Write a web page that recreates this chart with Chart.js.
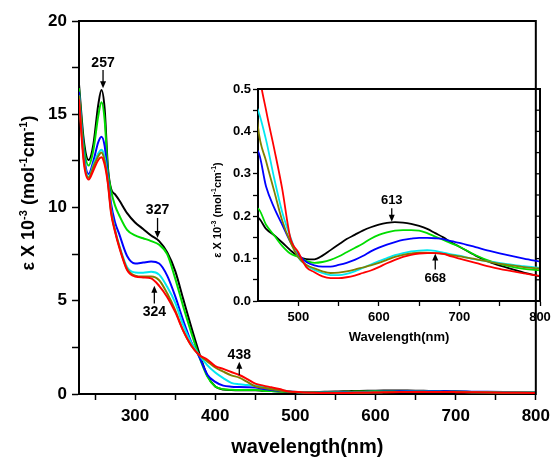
<!DOCTYPE html>
<html>
<head>
<meta charset="utf-8">
<script src="https://cdn.jsdelivr.net/npm/chart.js@4.4.1/dist/chart.umd.min.js"></script>
<style>
  body { margin: 0; background: #fff; }
  #wrap { position: relative; width: 556px; height: 457px; }
  #main { position: absolute; left: 0; top: 0; }
  #inset { position: absolute; left: 200px; top: 75px; }
</style>
</head>
<body>
<div id="wrap">
  <canvas id="main" width="556" height="457"></canvas>
  <canvas id="inset" width="356" height="280"></canvas>
</div>
<script>
// wavelength (nm)
const wavelengths = [230, 236, 242, 248, 254, 258, 262, 266, 270, 275,
  280, 290, 300, 310, 320, 330, 340, 350, 360, 370,
  380, 390, 400, 410, 420, 430, 440, 450, 460, 470,
  480, 490, 500, 510, 520, 530, 540, 550, 560, 570,
  580, 590, 600, 610, 620, 630, 640, 650, 660, 670,
  680, 690, 700, 720, 740, 760, 780, 800];

// epsilon x 10^-3 for each spectrum
const blackSeries = [16.6, 13.6, 12.55, 13.4, 15.5, 16.3, 15.3, 12.2, 11.0, 10.7,
  10.4, 9.7, 9.2, 8.85, 8.5, 8.2, 7.6, 6.6, 5.1, 3.6,
  2.2, 1.0, 0.4, 0.24, 0.21, 0.2, 0.2, 0.197, 0.17, 0.155,
  0.138, 0.12, 0.105, 0.099, 0.098, 0.107, 0.12, 0.133, 0.146, 0.156,
  0.166, 0.174, 0.18, 0.184, 0.186, 0.185, 0.182, 0.177, 0.17, 0.16,
  0.15, 0.138, 0.128, 0.107, 0.09, 0.078, 0.067, 0.058];
const greenSeries = [16.4, 13.3, 12.25, 13.1, 14.9, 15.65, 14.7, 12.0, 10.9, 10.1,
  9.6, 8.8, 8.5, 8.35, 8.2, 8.0, 7.5, 6.2, 4.7, 3.3,
  2.0, 0.95, 0.4, 0.26, 0.23, 0.22, 0.22, 0.218, 0.18, 0.155,
  0.13, 0.112, 0.104, 0.095, 0.09, 0.092, 0.097, 0.105, 0.115, 0.125,
  0.135, 0.147, 0.156, 0.162, 0.166, 0.167, 0.167, 0.166, 0.16, 0.152,
  0.144, 0.136, 0.128, 0.108, 0.093, 0.083, 0.076, 0.072];
const blueSeries = [16.2, 12.9, 11.8, 12.5, 13.5, 13.8, 13.3, 11.7, 10.2, 9.2,
  8.6, 7.4, 7.0, 7.05, 7.1, 7.0, 6.35, 5.25, 3.95, 2.8,
  2.0, 1.05, 0.65, 0.45, 0.39, 0.37, 0.36, 0.353, 0.27, 0.22,
  0.18, 0.14, 0.11, 0.092, 0.084, 0.081, 0.081, 0.085, 0.09, 0.097,
  0.106, 0.117, 0.126, 0.133, 0.139, 0.144, 0.147, 0.149, 0.149, 0.148,
  0.146, 0.141, 0.137, 0.127, 0.117, 0.108, 0.1, 0.093];
const cyanSeries = [16.0, 12.7, 11.65, 12.3, 12.9, 13.1, 12.7, 11.5, 9.9, 8.8,
  8.0, 6.8, 6.52, 6.5, 6.55, 6.4, 5.75, 4.9, 3.7, 2.75,
  2.09, 1.55, 1.15, 0.85, 0.6, 0.52, 0.48, 0.45, 0.38, 0.29,
  0.21, 0.152, 0.103, 0.085, 0.073, 0.066, 0.061, 0.061, 0.064, 0.07,
  0.078, 0.086, 0.094, 0.101, 0.108, 0.113, 0.117, 0.119, 0.12, 0.118,
  0.114, 0.11, 0.107, 0.098, 0.092, 0.087, 0.082, 0.078];
const oliveSeries = [16.0, 12.6, 11.6, 12.2, 12.75, 12.95, 12.5, 11.4, 9.8, 8.75,
  7.95, 6.7, 6.35, 6.3, 6.3, 6.1, 5.4, 4.5, 3.4, 2.6,
  2.09, 1.75, 1.42, 1.2, 1.0, 0.88, 0.65, 0.41, 0.33, 0.26,
  0.19, 0.14, 0.103, 0.085, 0.077, 0.07, 0.066, 0.067, 0.07, 0.074,
  0.079, 0.084, 0.09, 0.097, 0.104, 0.109, 0.112, 0.114, 0.114, 0.113,
  0.111, 0.108, 0.105, 0.099, 0.091, 0.085, 0.08, 0.076];
const redSeries = [15.8, 12.4, 11.5, 12.0, 12.55, 12.7, 12.3, 11.3, 9.7, 8.7,
  7.9, 6.65, 6.3, 6.25, 6.2, 5.8, 5.2, 4.4, 3.4, 2.6,
  2.09, 1.85, 1.5, 1.35, 1.18, 1.02, 0.8, 0.56, 0.45, 0.36,
  0.265, 0.15, 0.115, 0.08, 0.068, 0.058, 0.054, 0.054, 0.056, 0.06,
  0.066, 0.072, 0.08, 0.089, 0.097, 0.104, 0.109, 0.112, 0.113, 0.113,
  0.111, 0.105, 0.1, 0.09, 0.08, 0.072, 0.065, 0.059];

// tick values
const mainXTicks = [250, 300, 350, 400, 450, 500, 550, 600, 650, 700, 750, 800];
const mainYTicks = [0, 2.5, 5, 7.5, 10, 12.5, 15, 17.5, 20];
const insetXTicks = [500, 550, 600, 650, 700, 750, 800];
const insetYTicks = [0, 0.05, 0.1, 0.15, 0.2, 0.25, 0.3, 0.35, 0.4, 0.45, 0.5];

// peak labels: text, wavelength, text level, arrow tail, arrow head
const mainNoteText = ['257', '327', '324', '438'];
const mainNoteX = [260, 328, 324, 430];
const mainNoteTextY = [17.75, 9.87, 4.4, 2.09];
const mainNoteFrom = [17.37, 9.44, 4.85, 1.02];
const mainNoteTo = [16.4, 8.36, 5.8, 1.73];

const insetNoteText = ['613', '668'];
const insetNoteX = [616, 670];
const insetNoteTextY = [0.238, 0.054];
const insetNoteFrom = [0.219, 0.074];
const insetNoteTo = [0.187, 0.112];

const FONT = "'Liberation Sans', Arial, Helvetica, sans-serif";

const seriesList = [
  {data: blackSeries, color: '#000000', order: 5},
  {data: greenSeries, color: '#00dd00', order: 4},
  {data: blueSeries, color: '#0000ff', order: 3},
  {data: cyanSeries, color: '#00e8f0', order: 2},
  {data: oliveSeries, color: '#808000', order: 1},
  {data: redSeries, color: '#ff0000', order: 0}
];

function makeDatasets(width) {
  return seriesList.map(s => ({
    data: wavelengths.map((w, i) => ({x: w, y: s.data[i]})),
    borderColor: s.color,
    backgroundColor: s.color,
    borderWidth: width,
    pointRadius: 0,
    fill: false,
    order: s.order,
    cubicInterpolationMode: 'monotone'
  }));
}

// rotated title with superscripts
function drawRichTitle(ctx, cx, cy, size) {
  const parts = [['\u03b5 X 10', 0], ['-3', 1], [' (mol', 0], ['-1', 1], ['cm', 0], ['-1', 1], [')', 0]];
  const supSize = Math.round(size * 0.62);
  let total = 0;
  parts.forEach(p => {
    ctx.font = 'bold ' + (p[1] ? supSize : size) + 'px ' + FONT;
    total += ctx.measureText(p[0]).width;
  });
  ctx.save();
  ctx.translate(cx, cy);
  ctx.rotate(-Math.PI / 2);
  ctx.fillStyle = '#000';
  ctx.textBaseline = 'alphabetic';
  let x = -total / 2;
  parts.forEach(p => {
    ctx.font = 'bold ' + (p[1] ? supSize : size) + 'px ' + FONT;
    ctx.fillText(p[0], x, p[1] ? size * 0.35 - size * 0.42 : size * 0.35);
    x += ctx.measureText(p[0]).width;
  });
  ctx.restore();
}

function drawArrow(ctx, x, y1, y2) {
  const dir = y2 > y1 ? 1 : -1;
  ctx.beginPath();
  ctx.moveTo(x, y1);
  ctx.lineTo(x, y2 - dir * 5);
  ctx.stroke();
  ctx.beginPath();
  ctx.moveTo(x, y2);
  ctx.lineTo(x - 3, y2 - dir * 7);
  ctx.lineTo(x + 3, y2 - dir * 7);
  ctx.closePath();
  ctx.fill();
}

function notesPlugin(texts, xs, textYs, froms, tos, fontSize) {
  return {
    id: 'notes',
    afterDatasetsDraw(chart) {
      const ctx = chart.ctx;
      const sx = chart.scales.x, sy = chart.scales.y;
      ctx.save();
      ctx.strokeStyle = '#000';
      ctx.fillStyle = '#000';
      ctx.lineWidth = 1.3;
      texts.forEach((t, i) => {
        const px = sx.getPixelForValue(xs[i]);
        drawArrow(ctx, px, sy.getPixelForValue(froms[i]), sy.getPixelForValue(tos[i]));
        ctx.font = 'bold ' + fontSize + 'px ' + FONT;
        ctx.textAlign = 'center';
        ctx.textBaseline = 'middle';
        ctx.fillText(t, px, sy.getPixelForValue(textYs[i]));
      });
      ctx.restore();
    }
  };
}

function framePlugin(rightTicks) {
  return {
    id: 'frame',
    afterDraw(chart) {
      const {ctx, chartArea} = chart;
      ctx.save();
      ctx.strokeStyle = '#000';
      ctx.lineWidth = 2;
      ctx.beginPath();
      ctx.moveTo(chartArea.left - 1, chartArea.top);
      ctx.lineTo(chartArea.right, chartArea.top);
      ctx.lineTo(chartArea.right, chartArea.bottom + 1);
      ctx.stroke();
      if (rightTicks) {
        const sy = chart.scales.y;
        ctx.lineWidth = 1.3;
        rightTicks.forEach(v => {
          const py = sy.getPixelForValue(v);
          ctx.beginPath();
          ctx.moveTo(chartArea.right, py);
          ctx.lineTo(chartArea.right - 4, py);
          ctx.stroke();
        });
      }
      ctx.restore();
    }
  };
}

function titlePlugin(cx, cy, size) {
  return {
    id: 'ytitle',
    afterDraw(chart) { drawRichTitle(chart.ctx, cx, cy, size); }
  };
}

// main chart
new Chart(document.getElementById('main'), {
  type: 'line',
  data: {datasets: makeDatasets(2)},
  options: {
    responsive: false,
    animation: false,
    layout: {padding: {top: 21, right: 16, left: 0, bottom: 0}},
    plugins: {legend: {display: false}, tooltip: {enabled: false}},
    scales: {
      x: {
        type: 'linear', min: 230, max: 800,
        afterBuildTicks: s => { s.ticks = mainXTicks.map(v => ({value: v})); },
        afterFit: s => { s.height = 63; },
        ticks: {
          autoSkip: false, maxRotation: 0, padding: 6, color: '#000',
          font: {family: FONT, size: 17, weight: 'bold'},
          callback: v => (v % 100 === 0 ? String(v) : '')
        },
        grid: {drawOnChartArea: false, tickLength: 6, tickColor: '#000', tickWidth: 1.5},
        border: {color: '#000', width: 2},
        title: {
          display: true, text: 'wavelength(nm)', color: '#000',
          font: {family: FONT, size: 20, weight: 'bold', lineHeight: 1},
          padding: {top: 0, bottom: 0}
        }
      },
      y: {
        min: 0, max: 20,
        afterBuildTicks: s => { s.ticks = mainYTicks.map(v => ({value: v})); },
        afterFit: s => { s.width = 79; },
        ticks: {
          padding: 5, color: '#000',
          font: {family: FONT, size: 17, weight: 'bold'},
          callback: v => (v % 5 === 0 ? String(v) : '')
        },
        grid: {drawOnChartArea: false, tickLength: 7, tickColor: '#000', tickWidth: 1.5},
        border: {color: '#000', width: 2}
      }
    }
  },
  plugins: [
    framePlugin(null),
    titlePlugin(28, 193, 18),
    notesPlugin(mainNoteText, mainNoteX, mainNoteTextY, mainNoteFrom, mainNoteTo, 14)
  ]
});

// inset chart
new Chart(document.getElementById('inset'), {
  type: 'line',
  data: {datasets: makeDatasets(1.8)},
  options: {
    responsive: false,
    animation: false,
    layout: {padding: {top: 14, right: 16, left: 0, bottom: 0}},
    plugins: {legend: {display: false}, tooltip: {enabled: false}},
    scales: {
      x: {
        type: 'linear', min: 450, max: 800,
        afterBuildTicks: s => { s.ticks = insetXTicks.map(v => ({value: v})); },
        afterFit: s => { s.height = 54; },
        ticks: {
          autoSkip: false, maxRotation: 0, padding: 4, color: '#000',
          font: {family: FONT, size: 13, weight: 'bold'},
          callback: v => (v % 100 === 0 ? String(v) : '')
        },
        grid: {drawOnChartArea: false, tickLength: 5, tickColor: '#000', tickWidth: 1.3},
        border: {color: '#000', width: 2},
        title: {
          display: true, text: 'Wavelength(nm)', color: '#000',
          font: {family: FONT, size: 13, weight: 'bold', lineHeight: 1},
          padding: {top: 0, bottom: 11}
        }
      },
      y: {
        min: 0, max: 0.5,
        afterBuildTicks: s => { s.ticks = insetYTicks.map(v => ({value: v})); },
        afterFit: s => { s.width = 58; },
        ticks: {
          padding: 2, color: '#000',
          font: {family: FONT, size: 13, weight: 'bold'},
          callback: v => (Math.round(v * 100) % 10 === 0 ? v.toFixed(1) : '')
        },
        grid: {drawOnChartArea: false, tickLength: 5, tickColor: '#000', tickWidth: 1.3},
        border: {color: '#000', width: 2}
      }
    }
  },
  plugins: [
    framePlugin(insetYTicks.slice(1, -1)),
    titlePlugin(17, 135, 11),
    notesPlugin(insetNoteText, insetNoteX, insetNoteTextY, insetNoteFrom, insetNoteTo, 13)
  ]
});
</script>
</body>
</html>
